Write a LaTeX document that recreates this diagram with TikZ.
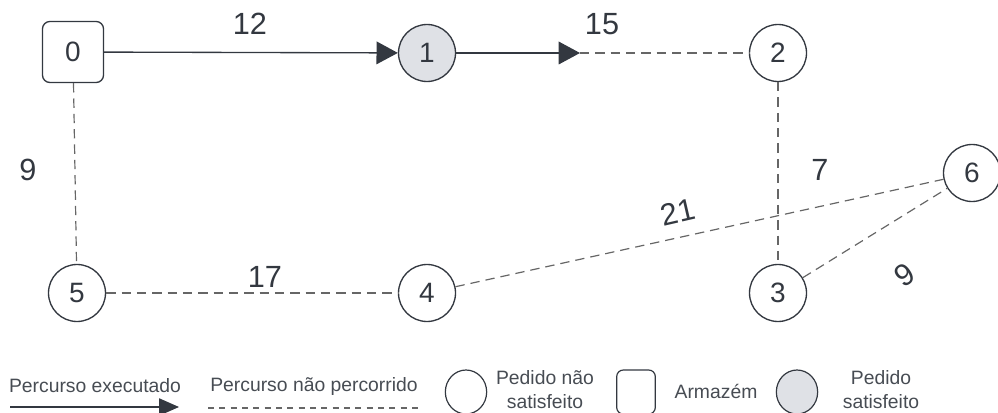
\documentclass[tikz,border=0pt]{standalone}
\usepackage{fontspec}
\setmainfont{Liberation Sans}
\usetikzlibrary{arrows.meta,shapes.geometric}
\definecolor{ink}{HTML}{333840}
\definecolor{dash}{HTML}{666666}
\definecolor{done}{HTML}{DFE1E6}
\tikzset{
  vertex/.style={circle,draw=ink,line width=1pt,minimum size=42.75pt,inner sep=0pt,font=\fontsize{21}{24}\selectfont,text=ink},
  depot/.style={rectangle,rounded corners=5.5pt,draw=ink,line width=1pt,minimum size=45.75pt,inner sep=0pt,font=\fontsize{21}{24}\selectfont,text=ink},
  donevertex/.style={vertex,fill=done},
  runline/.style={draw=ink,line width=1pt,-{Triangle[length=16pt,width=17pt]}},
  openline/.style={draw=dash,line width=0.9pt,dash pattern=on 7pt off 4.5pt},
  wlabel/.style={font=\fontsize{23}{26}\selectfont,text=ink,inner sep=0pt},
  legtext/.style={font=\fontsize{14.5}{18}\selectfont,text=ink!90,inner sep=0pt,align=center},
  legcircle/.style={ellipse,draw=ink,line width=0.9pt,minimum width=31pt,minimum height=33pt,inner sep=0pt},
  legbox/.style={rectangle,rounded corners=5pt,draw=ink,line width=0.9pt,minimum width=29pt,minimum height=33pt,inner sep=0pt},
}
\begin{document}
\begin{tikzpicture}[x=0.75pt,y=-0.75pt]
\useasboundingbox (0,0) rectangle (998,413);
% nodes
\node[depot] (n0) at (73,52) {0};
\node[donevertex] (n1) at (427,53) {1};
\node[vertex] (n2) at (778,53) {2};
\node[vertex] (n6) at (972,173) {6};
\node[vertex] (n5) at (77,293) {5};
\node[vertex] (n4) at (427,293) {4};
\node[vertex] (n3) at (778,293) {3};
\coordinate (m) at (580,53);
% edges
\draw[runline] (n0) -- (n1);
\draw[runline] (n1) -- (m);
\draw[openline] (m) -- (n2);
\draw[openline] (n0) -- (n5);
\draw[openline] (n2) -- (n3);
\draw[openline] (n5) -- (n4);
\draw[openline] (n4) -- (n6);
\draw[openline] (n3) -- (n6);
% weights
\node[wlabel] (w12) at (250,24) {12};
\node[wlabel] (w15) at (602,24) {15};
\node[wlabel] (w9a) at (28,170) {9};
\node[wlabel] (w7) at (820,170) {7};
\node[wlabel,rotate=13] (w21) at (678,212) {21};
\node[wlabel,rotate=34] (w9b) at (905,275) {9};
\node[wlabel] (w17) at (265,277) {17};
% legend
\node[legtext] (l1) at (95,386) {Percurso executado};
\coordinate (a1) at (10,407);
\coordinate (a2) at (179,407);
\draw[draw=ink,line width=0.9pt,-{Triangle[length=15pt,width=13pt]}] (a1) -- (a2);
\node[legtext] (l2) at (314,386) {Percurso não percorrido};
\coordinate (b1) at (208,408);
\coordinate (b2) at (420,408);
\draw[draw=dash,line width=0.8pt,dash pattern=on 4.5pt off 4pt] (b1) -- (b2);
\node[legcircle] (c1) at (466,392) {};
\node[legtext] (t1) at (545,390) {Pedido não\\satisfeito};
\node[legbox] (c2) at (636,392) {};
\node[legtext] (t2) at (716,391) {Armazém};
\node[legcircle,fill=done] (c3) at (797,392) {};
\node[legtext] (t3) at (881,390) {Pedido\\satisfeito};
\end{tikzpicture}
\end{document}
